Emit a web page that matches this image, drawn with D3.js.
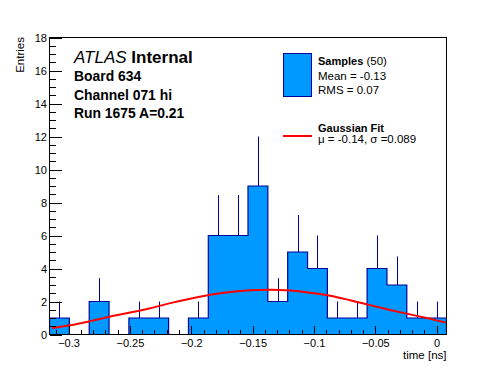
<!DOCTYPE html>
<html>
<head>
<meta charset="utf-8">
<script src="https://cdn.jsdelivr.net/npm/d3@7"></script>
<style>
    body { margin: 0; background: #fff; }
    svg { display: block; }
    text { font-family: "Liberation Sans", Arial, Helvetica, sans-serif; fill: #000; }
</style>
</head>
<body>
<div id="chart-ctn"></div>
<script>
// Histogram range and bin contents (20 bins)
let binLo = -0.3155;
let binHi = 0.008;
let counts = [1, 0, 2, 0, 1, 1, 0, 1, 6, 6, 9, 2, 5, 4, 1, 1, 4, 3, 1, 1];
let errors = [1, 0, 1.41, 0, 1, 1, 0, 1, 2.45, 2.45, 3, 1.41, 2.24, 2, 1, 1, 2, 1.73, 1, 1];

// Gaussian fit curve
let fitX = [-0.3135, -0.2986, -0.2823, -0.266, -0.2497, -0.2334, -0.2171, -0.2009, -0.1846, -0.1683,
    -0.152, -0.1357, -0.1195, -0.1032, -0.0869, -0.0706, -0.0543, -0.038, -0.0217, -0.0054, 0.0076];
let fitY = [0.39, 0.56, 0.81, 1.09, 1.33, 1.59, 1.90, 2.17, 2.41, 2.58,
    2.68, 2.71, 2.66, 2.53, 2.35, 2.08, 1.78, 1.49, 1.22, 0.95, 0.72];

// Axis ticks
let xTicks = [-0.3, -0.25, -0.2, -0.15, -0.1, -0.05, 0];
let xMinorTicks = d3.range(-31, 1).map((d) => d / 100);
let yTicks = [0, 2, 4, 6, 8, 10, 12, 14, 16, 18];
let yMinorTicks = d3.range(0, 37).map((d) => d / 2);

let infoLines = ["Board 634", "Channel 071 hi", "Run 1675 A=0.21"];

let W = 496, H = 372;
let frame = { left: 49.5, right: 446.5, top: 37.5, bottom: 334.5 };

let fillColor = "#0099ff";
let lineColor = "#000099";

let svg = d3.select("#chart-ctn")
    .append("svg")
    .attr("width", W)
    .attr("height", H);

svg.append("rect").attr("width", W).attr("height", H).attr("fill", "#fff");

let x = d3.scaleLinear().domain([binLo, binHi]).range([frame.left, frame.right]);
let y = d3.scaleLinear().domain([0, 18]).range([frame.bottom, frame.top]);

svg.append("clipPath").attr("id", "plot-clip")
    .append("rect")
    .attr("x", frame.left).attr("y", frame.top)
    .attr("width", frame.right - frame.left)
    .attr("height", frame.bottom - frame.top);

let plot = svg.append("g").attr("clip-path", "url(#plot-clip)");

// step outline of the histogram
let binW = (binHi - binLo) / counts.length;
let steps = [[binLo, 0]];
counts.forEach(function (c, i) {
    steps.push([binLo + i * binW, c]);
    steps.push([binLo + (i + 1) * binW, c]);
});
steps.push([binHi, 0]);

let stepLine = d3.line().x((d) => x(d[0])).y((d) => y(d[1]));

plot.append("path")
    .attr("d", stepLine(steps) + "Z")
    .attr("fill", fillColor)
    .attr("stroke", "none");

plot.append("path")
    .attr("d", stepLine(steps))
    .attr("fill", "none")
    .attr("stroke", lineColor)
    .attr("stroke-width", 1.2);

// error bars (upper half only is visible)
plot.selectAll(".err")
    .data(counts.map((c, i) => ({ c: c, e: errors[i], i: i })).filter((d) => d.c > 0))
    .join("line")
    .attr("class", "err")
    .attr("x1", (d) => Math.round(x(binLo + (d.i + 0.5) * binW)) + 0.5)
    .attr("x2", (d) => Math.round(x(binLo + (d.i + 0.5) * binW)) + 0.5)
    .attr("y1", (d) => y(d.c))
    .attr("y2", (d) => y(d.c + d.e))
    .attr("stroke", lineColor)
    .attr("stroke-width", 1);

// Gaussian fit
plot.append("path")
    .datum(fitX.map((d, i) => [d, fitY[i]]))
    .attr("fill", "none")
    .attr("stroke", "#ff0000")
    .attr("stroke-width", 2)
    .attr("d", d3.line().x((d) => x(d[0])).y((d) => y(d[1])).curve(d3.curveMonotoneX));

// Axes: ticks point into the frame
let xMinorAxis = d3.axisBottom(x).tickValues(xMinorTicks).tickSizeInner(-4.5).tickSizeOuter(0).tickFormat("");
let xAxis = d3.axisBottom(x).tickValues(xTicks).tickSizeInner(-9).tickSizeOuter(0).tickPadding(5)
    .tickFormat(d3.format("~g"));
let yMinorAxis = d3.axisLeft(y).tickValues(yMinorTicks).tickSizeInner(-6).tickSizeOuter(0).tickFormat("");
let yAxis = d3.axisLeft(y).tickValues(yTicks).tickSizeInner(-12).tickSizeOuter(0).tickPadding(2.5)
    .tickFormat(d3.format("d"));

[[xMinorAxis, "x"], [xAxis, "x"], [yMinorAxis, "y"], [yAxis, "y"]].forEach(function (a) {
    let g = svg.append("g")
        .attr("transform", a[1] == "x" ? `translate(0,${frame.bottom})` : `translate(${frame.left},0)`)
        .call(a[0]);
    g.select(".domain").remove();
    g.selectAll("line").attr("stroke", "#000").attr("shape-rendering", "crispEdges");
    g.selectAll("text")
        .style("font-family", '"Liberation Sans", Arial, sans-serif')
        .style("font-size", "11px")
        .attr("fill", "#000");
});

// frame
svg.append("rect")
    .attr("x", frame.left).attr("y", frame.top)
    .attr("width", frame.right - frame.left)
    .attr("height", frame.bottom - frame.top)
    .attr("fill", "none")
    .attr("stroke", "#000")
    .attr("stroke-width", 1);

// axis titles
svg.append("text")
    .attr("x", frame.right)
    .attr("y", 358.5)
    .attr("text-anchor", "end")
    .style("font-size", "11.5px")
    .text("time [ns]");

svg.append("text")
    .attr("transform", `translate(23.5,${frame.top - 0.5}) rotate(-90)`)
    .attr("text-anchor", "end")
    .style("font-size", "11.5px")
    .text("Entries");

// ATLAS label block
let atlas = svg.append("text").attr("x", 74).attr("y", 63.3).style("font-size", "17px");
atlas.append("tspan").style("font-style", "italic").text("ATLAS");
atlas.append("tspan").style("font-weight", "bold").text(" Internal");

svg.selectAll(".info")
    .data(infoLines)
    .join("text")
    .attr("class", "info")
    .attr("x", 74)
    .attr("y", (d, i) => 80.7 + i * 18.8)
    .style("font-size", "13.9px")
    .style("font-weight", "bold")
    .text((d) => d);

// legend
let lg = svg.append("g");
lg.append("rect")
    .attr("x", 283.5).attr("y", 53.5)
    .attr("width", 28).attr("height", 43)
    .attr("fill", fillColor)
    .attr("stroke", lineColor)
    .attr("stroke-width", 1);

let samples = lg.append("text").attr("x", 318).attr("y", 65).style("font-size", "11px");
samples.append("tspan").style("font-weight", "bold").text("Samples");
samples.append("tspan").style("font-size", "11.5px").text(" (50)");

lg.append("text").attr("x", 318).attr("y", 79.5).style("font-size", "11.5px").text("Mean = -0.13");
lg.append("text").attr("x", 318).attr("y", 94).style("font-size", "11.5px").text("RMS = 0.07");

lg.append("line")
    .attr("x1", 283).attr("x2", 312)
    .attr("y1", 136).attr("y2", 136)
    .attr("stroke", "#ff0000")
    .attr("stroke-width", 2);

lg.append("text").attr("x", 318).attr("y", 131.5).style("font-size", "11px")
    .style("font-weight", "bold").text("Gaussian Fit");
lg.append("text").attr("x", 318).attr("y", 143).style("font-size", "11.5px")
    .text("\u03bc = -0.14, \u03c3 =0.089");
</script>
</body>
</html>
